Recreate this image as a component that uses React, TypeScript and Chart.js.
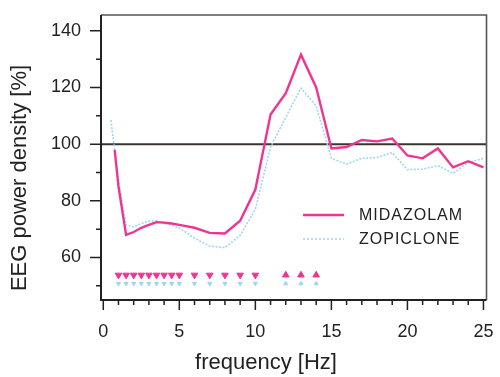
import React, { useEffect, useRef } from "react";
import { Chart, registerables } from "chart.js";

Chart.register(...registerables);

// ---- data ----
const freqs = [0.5, 0.75, 1, 1.5, 2, 2.5, 3, 3.5, 4, 4.5, 5, 6, 7, 8, 9, 10, 11, 12, 13, 14, 15, 16, 17, 18, 19, 20, 21, 22, 23, 24, 25];
const midazolam = [null, 98, 85, 68, 69, 70.5, 71.5, 72.5, 72.3, 72, 71.5, 70.5, 68.7, 68.5, 73, 84, 110.5, 118, 131.6, 120, 98.5, 99, 101.5, 101, 102, 96, 95, 98.5, 91.8, 94, 91.8];
const zopiclone = [108.5, null, 87, 71.5, 70.8, 72, 72.8, 73, 72, 71.3, 70.5, 66.8, 64, 63.5, 67.8, 77, 99, 109.5, 119.8, 113.5, 95, 93, 95, 95.3, 97, 91, 91.2, 92.4, 89.7, 93.5, 95];

// significance markers (frequencies)
const sigDownFreqs = [1, 1.5, 2, 2.5, 3, 3.5, 4, 4.5, 5, 6, 7, 8, 9, 10];
const sigUpFreqs = [12, 13, 14];
const midazolamMarkerLevel = 53.8;
const zopicloneMarkerLevel = 50.8;

const xMajorTicks = [0, 5, 10, 15, 20, 25];
const xMinorTicks = [1, 2, 3, 4, 6, 7, 8, 9, 11, 12, 13, 14, 16, 17, 18, 19, 21, 22, 23, 24];
const yMajorTicks = [60, 80, 100, 120, 140];
const yMinorTicks = [50, 70, 90, 110, 130];
const referenceLevel = 100;

const seriesNames = ["MIDAZOLAM", "ZOPICLONE"];
const xTitle = "frequency [Hz]";
const yTitle = "EEG power density [%]";

const PINK = "#ef3592";
const BLUE = "#9fd6f2";
const INK = "#222222";
const FONT = '"Liberation Sans", Arial, sans-serif';

const toXY = (xs: number[], ys: (number | null)[]) => xs.map((x, i) => ({ x, y: ys[i] }));

const zeroPad = (s: any) => {
  s.paddingTop = 0;
  s.paddingBottom = 0;
  s.paddingLeft = 0;
  s.paddingRight = 0;
};

const decorPlugin = {
  id: "decor",
  beforeDatasetsDraw(chart: any) {
    const { ctx, chartArea: a, scales } = chart;
    const y = scales.y.getPixelForValue(referenceLevel);
    ctx.save();
    ctx.strokeStyle = "#3b3530";
    ctx.lineWidth = 2;
    ctx.beginPath();
    ctx.moveTo(a.left, y);
    ctx.lineTo(a.right, y);
    ctx.stroke();
    ctx.restore();
  },
  afterDraw(chart: any) {
    const { ctx, chartArea: a, scales } = chart;
    const xs = scales.x;
    const ys = scales.y;
    ctx.save();
    // frame: top/right lighter, left/bottom axes darker
    ctx.strokeStyle = "#555555";
    ctx.lineWidth = 1.6;
    ctx.beginPath();
    ctx.moveTo(a.left, a.top);
    ctx.lineTo(a.right, a.top);
    ctx.lineTo(a.right, a.bottom);
    ctx.stroke();
    ctx.strokeStyle = INK;
    ctx.lineWidth = 2;
    ctx.beginPath();
    ctx.moveTo(a.left, a.top);
    ctx.lineTo(a.left, a.bottom);
    ctx.lineTo(a.right, a.bottom);
    ctx.stroke();
    // ticks
    ctx.lineWidth = 1.5;
    ctx.beginPath();
    xMajorTicks.forEach((v) => {
      const p = xs.getPixelForValue(v);
      ctx.moveTo(p, a.bottom);
      ctx.lineTo(p, a.bottom + 10);
    });
    xMinorTicks.forEach((v) => {
      const p = xs.getPixelForValue(v);
      ctx.moveTo(p, a.bottom);
      ctx.lineTo(p, a.bottom + 5);
    });
    yMajorTicks.forEach((v) => {
      const p = ys.getPixelForValue(v);
      ctx.moveTo(a.left, p);
      ctx.lineTo(a.left - 11, p);
    });
    yMinorTicks.forEach((v) => {
      const p = ys.getPixelForValue(v);
      ctx.moveTo(a.left, p);
      ctx.lineTo(a.left - 5, p);
    });
    ctx.stroke();

    // legend
    const lx0 = 303, lx1 = 344, tx = 359;
    const ly = [215, 239];
    ctx.lineWidth = 2.4;
    ctx.strokeStyle = PINK;
    ctx.beginPath();
    ctx.moveTo(lx0, ly[0]);
    ctx.lineTo(lx1, ly[0]);
    ctx.stroke();
    ctx.lineWidth = 1.5;
    ctx.strokeStyle = BLUE;
    ctx.setLineDash([2, 2]);
    ctx.beginPath();
    ctx.moveTo(lx0, ly[1]);
    ctx.lineTo(lx1, ly[1]);
    ctx.stroke();
    ctx.setLineDash([]);
    ctx.fillStyle = INK;
    ctx.font = `16px ${FONT}`;
    (ctx as any).letterSpacing = "1px";
    ctx.textAlign = "left";
    ctx.textBaseline = "middle";
    ctx.fillText(seriesNames[0], tx, ly[0] + 1);
    ctx.fillText(seriesNames[1], tx, ly[1] + 1);
    (ctx as any).letterSpacing = "0px";

    // axis titles
    ctx.font = `22px ${FONT}`;
    ctx.textAlign = "center";
    ctx.textBaseline = "middle";
    ctx.fillText(xTitle, 266, 363);
    ctx.translate(20, 178);
    ctx.rotate(-Math.PI / 2);
    ctx.fillText(yTitle, 0, 0);
    ctx.restore();
  },
};

export default function App() {
  const ref = useRef<HTMLCanvasElement | null>(null);
  useEffect(() => {
    if (!ref.current) return;
    const chart = new Chart(ref.current, {
      type: "line",
      data: {
        datasets: [
          {
            label: seriesNames[0],
            data: toXY(freqs, midazolam) as any,
            borderColor: PINK,
            borderWidth: 2.4,
            pointRadius: 0,
            tension: 0,
            spanGaps: true,
          },
          {
            label: seriesNames[1],
            data: toXY(freqs, zopiclone) as any,
            borderColor: BLUE,
            borderWidth: 1.6,
            borderDash: [2, 1.5],
            pointRadius: 0,
            tension: 0,
            spanGaps: true,
          },
          {
            label: "m-down",
            data: sigDownFreqs.map((x) => ({ x, y: midazolamMarkerLevel })),
            showLine: false,
            pointStyle: "triangle",
            rotation: 180,
            pointRadius: 3.8,
            backgroundColor: PINK,
            borderColor: PINK,
            borderWidth: 1,
          },
          {
            label: "m-up",
            data: sigUpFreqs.map((x) => ({ x, y: midazolamMarkerLevel })),
            showLine: false,
            pointStyle: "triangle",
            rotation: 0,
            pointRadius: 3.8,
            backgroundColor: PINK,
            borderColor: PINK,
            borderWidth: 1,
          },
          {
            label: "z-down",
            data: sigDownFreqs.map((x) => ({ x, y: zopicloneMarkerLevel })),
            showLine: false,
            pointStyle: "triangle",
            rotation: 180,
            pointRadius: 2.4,
            backgroundColor: BLUE,
            borderColor: BLUE,
            borderWidth: 1,
          },
          {
            label: "z-up",
            data: sigUpFreqs.map((x) => ({ x, y: zopicloneMarkerLevel })),
            showLine: false,
            pointStyle: "triangle",
            rotation: 0,
            pointRadius: 2.4,
            backgroundColor: BLUE,
            borderColor: BLUE,
            borderWidth: 1,
          },
        ],
      },
      options: {
        responsive: false,
        animation: false,
        devicePixelRatio: 1,
        layout: { padding: { top: 15, right: 13.5, left: 0, bottom: 0 } },
        plugins: { legend: { display: false }, tooltip: { enabled: false } },
        scales: {
          x: {
            type: "linear",
            min: -0.15,
            max: 25.2,
            grid: { display: false, drawTicks: false },
            border: { display: false },
            afterBuildTicks: (s: any) => {
              s.ticks = xMajorTicks.map((v) => ({ value: v }));
            },
            afterFit: (s: any) => {
              s.height = 77;
              zeroPad(s);
            },
            ticks: {
              padding: 21,
              color: INK,
              font: { size: 18, family: FONT },
              maxRotation: 0,
              autoSkip: false,
              callback: (v: any) => String(v),
            },
          },
          y: {
            type: "linear",
            min: 45,
            max: 145.6,
            grid: { display: false, drawTicks: false },
            border: { display: false },
            afterBuildTicks: (s: any) => {
              s.ticks = yMajorTicks.map((v) => ({ value: v }));
            },
            afterFit: (s: any) => {
              s.width = 101;
              zeroPad(s);
            },
            ticks: {
              padding: 20,
              color: INK,
              font: { size: 18, family: FONT },
              autoSkip: false,
              callback: (v: any) => String(v),
            },
          },
        },
      },
      plugins: [decorPlugin],
    });
    return () => chart.destroy();
  }, []);
  return (
    <div style={{ position: "fixed", left: 0, top: 0, width: 500, height: 377, background: "#fff" }}>
      <canvas ref={ref} width={500} height={377} />
    </div>
  );
}
